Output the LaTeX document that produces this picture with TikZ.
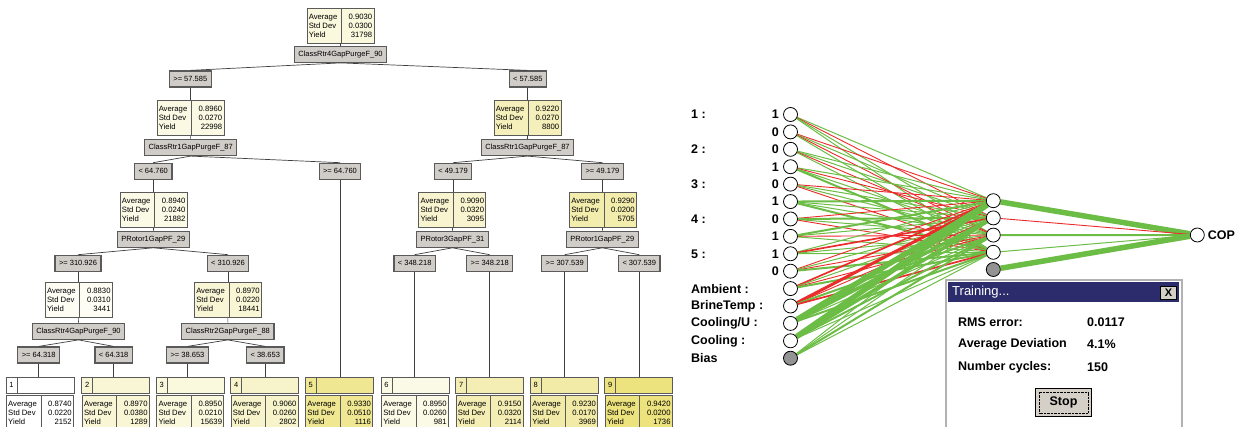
\documentclass[tikz,border=0pt]{standalone}
\usepackage{fontspec}
\setmainfont{Liberation Sans}
\definecolor{splitgray}{HTML}{D0CCC7}
\definecolor{edgegray}{HTML}{5A5A5A}
\definecolor{hiyellow}{HTML}{EBE177}
\definecolor{netgreen}{HTML}{6CBD45}
\definecolor{netred}{HTML}{EC2B2B}
\definecolor{titlenavy}{HTML}{2C2C6C}
\definecolor{btngray}{HTML}{D4D0C8}
\usetikzlibrary{positioning,backgrounds}

\newcommand{\statbox}[6]{% name, position, fill, average, std dev, yield
  \node[stats, fill=#3] (#1) at (#2) {};
  \draw[frame] ([xshift=35pt]#1.north west) -- ([xshift=35pt]#1.south west);
  \node[tinytext, anchor=west, align=left] at ([xshift=2pt]#1.west) {Average\\Std Dev\\Yield};
  \node[tinytext, anchor=east, align=right] at ([xshift=-2pt]#1.east) {#4\\#5\\#6};
}
\newcommand{\leafbox}[7]{% name, x, fill, number, average, std dev, yield
  \node[leafhead, fill=#3] (#1) at (#2,385) {};
  \node[numcell, fill=#3, anchor=north west] at (#1.north west) {#4};
  \statbox{#1s}{#2,412.5}{#3}{#5}{#6}{#7}
}

\begin{document}
\begin{tikzpicture}[x=1pt, y=-1pt,
  tinytext/.style={font=\fontsize{7.7}{9}\selectfont, inner sep=0pt},
  frame/.style={draw=edgegray, line width=0.9pt},
  stats/.style={frame, minimum width=67pt, minimum height=35pt, inner sep=0pt},
  splitbox/.style={frame, line width=1.2pt, fill=splitgray, font=\fontsize{7.5}{9}\selectfont,
    minimum height=16pt, inner xsep=4pt, inner ysep=0pt},
  link/.style={draw=edgegray!70!black, line width=0.7pt},
  leafhead/.style={frame, minimum width=68pt, minimum height=16pt, inner sep=0pt},
  numcell/.style={frame, minimum width=11pt, minimum height=16pt, inner sep=0pt,
    font=\fontsize{7.5}{9}\selectfont},
  neuron/.style={circle, draw=black, line width=0.8pt, fill=white, minimum size=14pt, inner sep=0pt},
  biasneuron/.style={neuron, fill=gray!85},
  netlabel/.style={font=\bfseries\fontsize{12.5}{14}\selectfont, inner sep=0pt},
  gw1/.style={draw=netgreen, line width=1pt},
  gw2/.style={draw=netgreen, line width=2pt},
  gw3/.style={draw=netgreen, line width=3.5pt},
  gw4/.style={draw=netgreen, line width=5.5pt},
  rw1/.style={draw=netred, line width=0.9pt},
  rw2/.style={draw=netred, line width=1.7pt},
  rw3/.style={draw=netred, line width=3pt},
  dlgtext/.style={font=\bfseries\fontsize{12.5}{14}\selectfont, inner sep=0pt},
]
\useasboundingbox (0,0) rectangle (1242,427);
\clip (0,0) rectangle (1242,427);

% regression tree
\statbox{n0}{340.5,25.5}{hiyellow!25!white}{0.9030}{0.0300}{31798}
\node[splitbox] (q0) at (340.5,54.3) {ClassRtr4GapPurgeF\_90};
\node[splitbox] (c1) at (190.3,79) {>= 57.585};
\node[splitbox] (c2) at (527.8,79) {< 57.585};
\statbox{n1}{190.5,117.5}{hiyellow!20!white}{0.8960}{0.0270}{22998}
\statbox{n2}{527.5,117.5}{hiyellow!50!white}{0.9220}{0.0270}{8800}
\node[splitbox] (q1) at (190.7,147.5) {ClassRtr1GapPurgeF\_87};
\node[splitbox] (q2) at (527.5,147.5) {ClassRtr1GapPurgeF\_87};
\node[splitbox] (c11) at (153.2,171.3) {< 64.760};
\node[splitbox] (c12) at (340,171.3) {>= 64.760};
\node[splitbox] (c21) at (453,171.3) {< 49.179};
\node[splitbox] (c22) at (602.5,171.3) {>= 49.179};
\statbox{n11}{153.7,210.2}{hiyellow!18!white}{0.8940}{0.0240}{21882}
\statbox{n21}{452.3,210.2}{hiyellow!35!white}{0.9090}{0.0320}{3095}
\statbox{n22}{603,210.2}{hiyellow!60!white}{0.9290}{0.0200}{5705}
\node[splitbox] (q11) at (153.3,239.2) {PRotor1GapPF\_29};
\node[splitbox] (q21) at (452.5,239.2) {PRotor3GapPF\_31};
\node[splitbox] (q22) at (602.3,239.2) {PRotor1GapPF\_29};
\node[splitbox] (c111) at (78,263.3) {>= 310.926};
\node[splitbox] (c112) at (228,263.3) {< 310.926};
\node[splitbox] (c211) at (414.7,263.3) {< 348.218};
\node[splitbox] (c212) at (489.7,263.3) {>= 348.218};
\node[splitbox] (c221) at (564.7,263.3) {>= 307.539};
\node[splitbox] (c222) at (639.3,263.3) {< 307.539};
\statbox{n111}{78.8,300}{hiyellow!8!white}{0.8830}{0.0310}{3441}
\statbox{n112}{228,300}{hiyellow!30!white}{0.8970}{0.0220}{18441}
\node[splitbox] (q111) at (78.5,331.3) {ClassRtr4GapPurgeF\_90};
\node[splitbox] (q112) at (227.8,331.3) {ClassRtr2GapPurgeF\_88};
\node[splitbox] (c1111) at (38.7,355) {>= 64.318};
\node[splitbox] (c1112) at (113.7,355) {< 64.318};
\node[splitbox] (c1121) at (187.5,355) {>= 38.653};
\node[splitbox] (c1122) at (265.3,355) {< 38.653};
\leafbox{leaf1}{40}{white}{1}{0.8740}{0.0220}{2152}
\leafbox{leaf2}{115.8}{hiyellow!30!white}{2}{0.8970}{0.0380}{1289}
\leafbox{leaf3}{190.3}{hiyellow!25!white}{3}{0.8950}{0.0210}{15639}
\leafbox{leaf4}{264.7}{hiyellow!38!white}{4}{0.9060}{0.0260}{2802}
\leafbox{leaf5}{339.2}{hiyellow!80!white}{5}{0.9330}{0.0510}{1116}
\leafbox{leaf6}{415}{hiyellow!18!white}{6}{0.8950}{0.0260}{981}
\leafbox{leaf7}{489.7}{hiyellow!55!white}{7}{0.9150}{0.0320}{2114}
\leafbox{leaf8}{564.2}{hiyellow!65!white}{8}{0.9230}{0.0170}{3969}
\leafbox{leaf9}{638.8}{hiyellow!95!white}{9}{0.9420}{0.0200}{1736}

\foreach \a/\b in {n0/q0, n1/q1, n2/q2, n11/q11, n21/q21, n22/q22, n111/q111, n112/q112}
  \draw[link] (\a) -- (\b);
\foreach \a/\b in {q0/c1, q0/c2, q1/c11, q1/c12, q2/c21, q2/c22, q11/c111, q11/c112,
    q21/c211, q21/c212, q22/c221, q22/c222, q111/c1111, q111/c1112, q112/c1121, q112/c1122}
  \draw[link] (\a.south) -- (\b.north);
\foreach \a/\b in {c1/n1, c2/n2, c11/n11, c21/n21, c22/n22, c111/n111, c112/n112,
    c1111/leaf1, c1112/leaf2, c1121/leaf3, c1122/leaf4, c12/leaf5, c211/leaf6,
    c212/leaf7, c221/leaf8, c222/leaf9}
  \draw[link] (\a.south) -- (\a.south |- \b.north);

% neural network
\foreach \i in {1,...,14}
  \node[neuron] (in\i) at (790.5,{114.5+17.41*(\i-1)}) {};
\node[biasneuron] (in15) at (790.5,358.2) {};
\foreach \i/\d in {1/1, 2/0, 3/0, 4/1, 5/0, 6/1, 7/0, 8/1, 9/1, 10/0}
  \node[netlabel, left=4pt of in\i] (bit\i) {\d};
\foreach \g/\i in {1/1, 2/3, 3/5, 4/7, 5/9}
  \node[netlabel, anchor=west] (grp\g) at (691,0 |- in\i) {\g\ :};
\foreach \t/\i in {Ambient/11, BrineTemp/12, Cooling\slash U/13, Cooling/14}
  \node[netlabel, anchor=west] (var\i) at (691,0 |- in\i) {\t\ :};
\node[netlabel, anchor=west] (var15) at (691,0 |- in15) {Bias};
\foreach \k in {1,...,4}
  \node[neuron] (hid\k) at (993.3,{200.7+17.2*(\k-1)}) {};
\node[biasneuron] (hid5) at (993.3,269.5) {};
\node[neuron] (out) at (1197.3,235) {};
\node[netlabel, right=3pt of out] (cop) {COP};

\begin{scope}[on background layer]
  \foreach \i/\a/\b/\c/\d in {1/gw1/rw1/gw1/gw1, 2/rw1/gw1/rw1/gw1, 3/gw1/gw1/rw1/gw1,
      4/gw1/rw1/gw1/gw2, 5/rw1/gw1/gw1/rw1, 6/gw2/gw1/gw1/gw2, 7/rw1/gw2/gw1/rw1,
      8/gw2/gw1/rw1/gw1, 9/gw1/rw2/gw1/gw1, 10/rw1/gw1/rw1/gw2, 11/rw2/gw1/rw1/gw2,
      12/rw3/rw1/gw2/rw2, 13/gw4/gw3/gw1/gw2, 14/gw4/gw3/gw2/gw1, 15/gw1/gw1/gw2/gw1} {
    \draw[\a] (in\i) -- (hid1);
    \draw[\b] (in\i) -- (hid2);
    \draw[\c] (in\i) -- (hid3);
    \draw[\d] (in\i) -- (hid4);
  }
  \draw[gw4] (hid1) -- (out);
  \draw[rw1] (hid2) -- (out);
  \draw[gw2] (hid3) -- (out);
  \draw[gw1] (hid4) -- (out);
  \draw[gw4] (hid5) -- (out);
\end{scope}

% training window
\node[draw=gray!60, line width=2pt, fill=white, minimum width=236pt, minimum height=152pt,
  inner sep=0pt, anchor=north west] (dlg) at (945,279) {};
\node[fill=titlenavy, minimum width=231pt, minimum height=20pt, inner sep=0pt,
  anchor=north west] (title) at (948,282) {};
\node[text=white, font=\fontsize{13}{15}\selectfont, inner sep=0pt, anchor=west]
  (titletxt) at ([xshift=4pt]title.west) {Training...};
\node[draw=black, fill=btngray, minimum width=16pt, minimum height=13pt, inner sep=0pt,
  font=\bfseries\fontsize{11}{12}\selectfont] (closebtn) at (1168.5,292.5) {X};
\node[dlgtext, anchor=west] (rmslbl) at (958,322) {RMS error:};
\node[dlgtext, anchor=west] (rmsval) at (1087,322) {0.0117};
\node[dlgtext, anchor=west] (devlbl) at (958,344.5) {Average Deviation};
\node[dlgtext, anchor=west] (devval) at (1087,344.5) {4.1\%};
\node[dlgtext, anchor=west] (cyclbl) at (958,367.3) {Number cycles:};
\node[dlgtext, anchor=west] (cycval) at (1087,367.3) {150};
\node[draw=black, line width=1.3pt, fill=btngray, minimum width=56pt, minimum height=28pt,
  font=\bfseries\fontsize{12.5}{14}\selectfont] (stop) at (1063.5,402.5) {Stop};
\draw[densely dotted] ([shift={(4pt,4pt)}]stop.south west) rectangle ([shift={(-4pt,-4pt)}]stop.north east);
\end{tikzpicture}
\end{document}
